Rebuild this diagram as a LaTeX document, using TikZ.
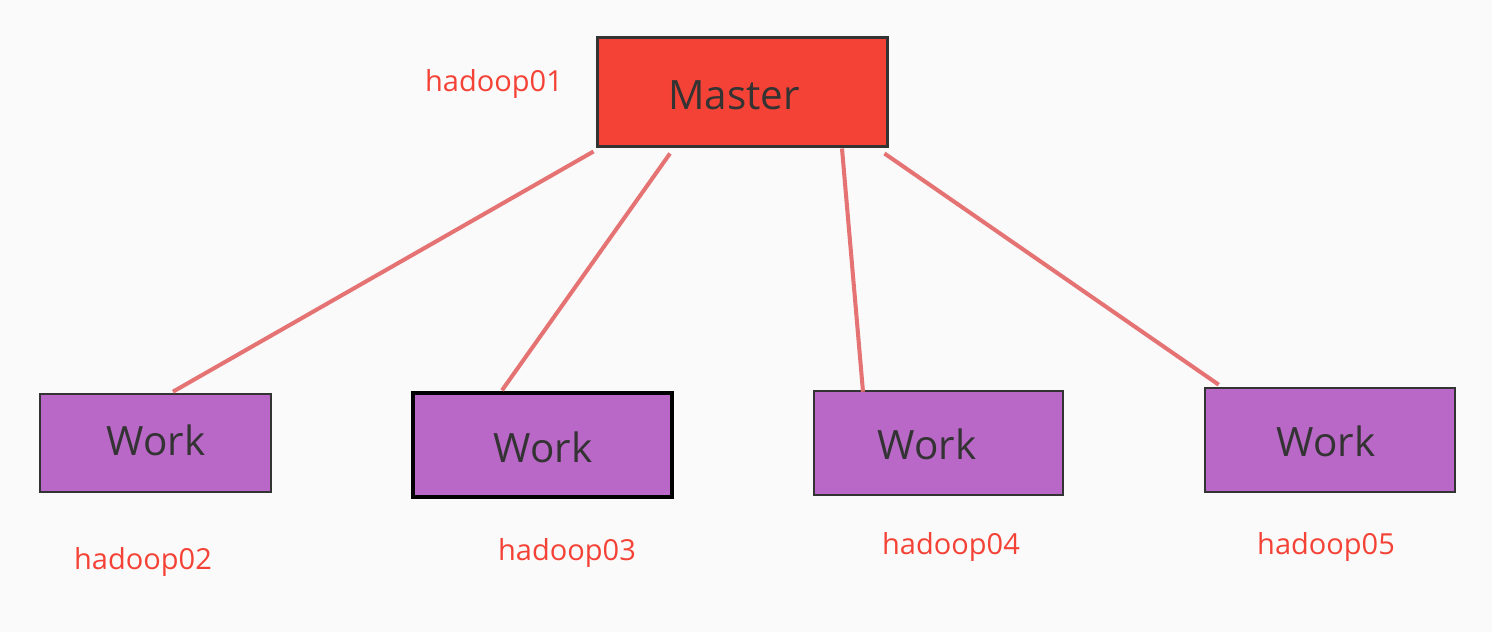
\documentclass[tikz,border=0pt]{standalone}
\usepackage{fontspec}
\setmainfont{Open Sans}
\usetikzlibrary{calc}
\definecolor{bgcol}{HTML}{FAFAFA}
\definecolor{mastercol}{HTML}{F44336}
\definecolor{workcol}{HTML}{BA68C8}
\definecolor{linkcol}{HTML}{E57373}
\definecolor{textcol}{HTML}{333333}
\definecolor{labelcol}{HTML}{F44336}
\begin{document}
\begin{tikzpicture}[x=0.02cm, y=-0.02cm,
  box/.style={rectangle, draw=textcol, line width=1.5pt, text=textcol, font=\fontsize{23}{27}\selectfont, inner sep=0pt},
  workbox/.style={box, fill=workcol, minimum height=2.08cm},
  hostlabel/.style={text=labelcol, font=\fontsize{16.5}{20}\selectfont},
  link/.style={linkcol, line width=2.3pt}]
  % Background
  \fill[bgcol] (0,0) rectangle (1492,632);

  % Define nodes
  \node[box, fill=mastercol, minimum width=5.82cm, minimum height=2.2cm, line width=1.7pt] (master) at (742.5,92) {};
  \node[workbox, minimum width=4.62cm, minimum height=1.96cm] (w1) at (155.5,443) {};
  \node[workbox, minimum width=5.18cm, draw=black, line width=1.9pt] (w2) at (542.5,445) {};
  \node[workbox, minimum width=4.98cm] (w3) at (938.5,443) {};
  \node[workbox, minimum width=5.0cm] (w4) at (1330,440) {};

  % Box texts
  \node[box, draw=none] (t0) at (734,95) {Master};
  \node[box, draw=none] (t1) at (156,440) {Work};
  \node[box, draw=none] (t2) at (543,447) {Work};
  \node[box, draw=none] (t3) at (927,444) {Work};
  \node[box, draw=none] (t4) at (1326,441) {Work};

  % Draw links
  \draw[link] ($(master.south west)+(-2,3)$) -- ($(w1.north)+(17.5,-1)$);
  \draw[link] ($(master.south)+(-72.5,5)$) -- ($(w2.north)+(-40.5,-1)$);
  \draw[link] ($(master.south)+(99.5,0)$) -- ($(w3.north)+(-75.5,2)$);
  \draw[link] ($(master.south east)+(-5,5)$) -- ($(w4.north west)+(15,-2)$);

  % Add host labels
  \node[hostlabel] (h1) at (494,84) {hadoop01};
  \node[hostlabel] (h2) at (143,562) {hadoop02};
  \node[hostlabel] (h3) at (567,553) {hadoop03};
  \node[hostlabel] (h4) at (951,547) {hadoop04};
  \node[hostlabel] (h5) at (1326,547) {hadoop05};
\end{tikzpicture}
\end{document}
